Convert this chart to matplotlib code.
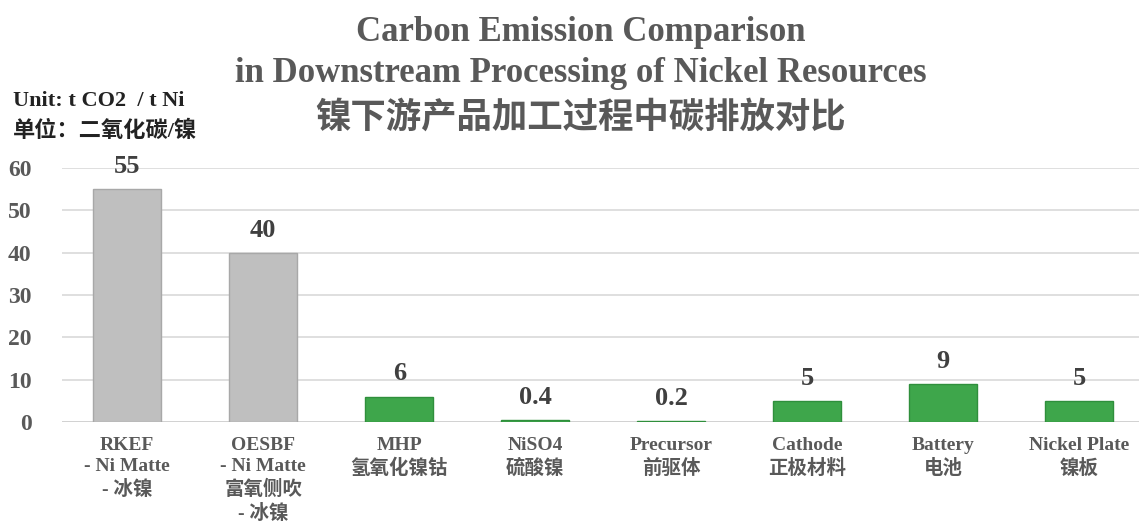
import numpy as np
import matplotlib
matplotlib.use("Agg")
from matplotlib import pyplot as plt

# data
categories = ["RKEF\n- Ni Matte\n- 冰镍", "OESBF\n- Ni Matte\n富氧侧吹\n- 冰镍", "MHP\n氢氧化镍钴",
              "NiSO4\n硫酸镍", "Precursor\n前驱体", "Cathode\n正极材料", "Battery\n电池", "Nickel Plate\n镍板"]
values = [55, 40, 6, 0.4, 0.2, 5, 9, 5]
value_labels = ["55", "40", "6", "0.4", "0.2", "5", "9", "5"]
is_smelting = [True, True, False, False, False, False, False, False]

plt.rcParams['font.family'] = ['Liberation Serif', 'Noto Sans CJK SC', 'DejaVu Sans']
plt.rcParams['font.weight'] = 'bold'

grey_txt = '#595959'

fig = plt.figure(figsize=(11.39, 5.30), dpi=100)
ax = fig.add_axes([0.0544, 0.2038, 0.9456, 0.4792])

x = np.arange(len(categories))
colors = ['#bfbfbf' if s else '#3ea64b' for s in is_smelting]
edges = ['#a8a8a8' if s else '#2f8f3c' for s in is_smelting]
bars = ax.bar(x, values, width=0.5, color=colors, edgecolor=edges, linewidth=1, zorder=3)

for b, lab in zip(bars, value_labels):
    ax.annotate(lab, (b.get_x() + b.get_width() / 2, b.get_height()), xytext=(0, 8),
                textcoords='offset points', ha='center', va='bottom',
                fontsize=19, fontweight='bold', color='#404040')

ax.set_ylim(0, 60)
ax.set_xlim(-0.48, 7.44)
ax.set_yticks(range(0, 61, 10))
ax.yaxis.grid(True, color='#d9d9d9', linewidth=1.2, zorder=0)
ax.set_axisbelow(True)
for s in ax.spines.values():
    s.set_visible(False)
ax.axhline(0, color='#d0d0d0', linewidth=1.2, zorder=2)
ax.tick_params(axis='both', length=0)
ax.tick_params(axis='y', labelsize=17, labelcolor=grey_txt, pad=22)
ax.set_xticks(x)
ax.set_xticklabels(categories, fontsize=14, color=grey_txt, fontweight='bold', linespacing=1.3)
ax.tick_params(axis='x', pad=11)
for t in ax.get_yticklabels():
    t.set_fontweight('bold')

fig.text(0.51, 0.938, "Carbon Emission Comparison", ha='center', va='center',
         fontsize=25, fontweight='bold', color=grey_txt)
fig.text(0.51, 0.861, "in Downstream Processing of Nickel Resources", ha='center', va='center',
         fontsize=25, fontweight='bold', color=grey_txt)
fig.text(0.51, 0.775, "镍下游产品加工过程中碳排放对比", ha='center', va='center',
         fontsize=25.5, fontweight='bold', color=grey_txt)

fig.text(0.011, 0.81, "Unit: t CO2  / t Ni", ha='left', va='center',
         fontsize=16, fontweight='bold', color='#222222')
fig.text(0.011, 0.752, "单位：二氧化碳/镍", ha='left', va='center',
         fontsize=16, fontweight='bold', color='#222222')

fig.savefig("out.png", dpi=100, facecolor='white')
